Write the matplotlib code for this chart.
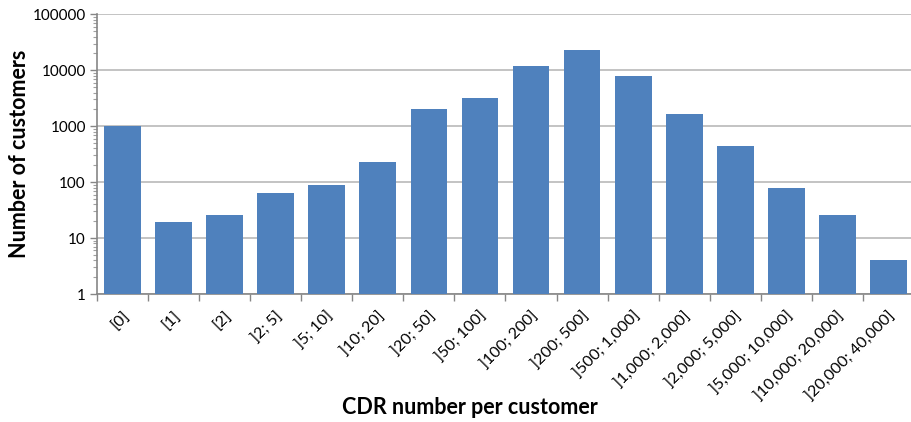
import matplotlib
matplotlib.use("Agg")
import matplotlib.pyplot as plt
import matplotlib.transforms as mtransforms
import numpy as np
from matplotlib.ticker import LogLocator, FixedLocator, NullFormatter, FuncFormatter

categories = ["[0]", "[1]", "[2]", "]2; 5]", "]5; 10]", "]10; 20]", "]20; 50]",
              "]50; 100]", "]100; 200]", "]200; 500]", "]500; 1,000]",
              "]1,000; 2,000]", "]2,000; 5,000]", "]5,000; 10,000]",
              "]10,000; 20,000]", "]20,000; 40,000]"]
customers = [1000, 19.6, 25.5, 65, 90, 229, 2050, 3190, 11700, 23000,
             7800, 1630, 440, 79, 25.5, 4.1]
y_ticks = [1, 10, 100, 1000, 10000, 100000]

plt.rcParams["font.family"] = ["Lato", "DejaVu Sans"]

fig = plt.figure(figsize=(9.12, 4.22), dpi=100)
W, H = 912, 422
x0, x1, yb, yt = 97, 914, 294, 14.3
ax = fig.add_axes([x0 / W, 1 - yb / H, (x1 - x0) / W, (yb - yt) / H])

x = np.arange(len(categories))
ax.bar(x, customers, width=0.72, color="#4F81BD", zorder=3, bottom=0.0001)
ax.set_yscale("log")
ax.set_ylim(1, 100000)
ax.set_xlim(-0.5, len(categories) - 0.5)

ax.yaxis.set_major_locator(FixedLocator(y_ticks))
ax.yaxis.set_major_formatter(FuncFormatter(lambda v, p: f"{int(v)}"))
ax.yaxis.set_minor_locator(LogLocator(base=10, subs=np.arange(2, 10)))
ax.yaxis.set_minor_formatter(NullFormatter())
ax.grid(axis="y", which="major", color="#BEBEBE", linewidth=1.3, zorder=0)

ax.set_xticks(np.arange(-0.5, len(categories) + 0.5, 1.0))
ax.set_xticklabels([])
ax.set_xticks(x, minor=True)
ax.set_xticklabels(categories, minor=True, rotation=45, ha="right", va="top",
                   rotation_mode="anchor", fontsize=11.5)
shift = mtransforms.ScaledTranslation(4 / 100, 0, fig.dpi_scale_trans)
for lbl in ax.get_xticklabels(minor=True):
    lbl.set_transform(lbl.get_transform() + shift)
ax.tick_params(axis="x", which="minor", length=0, pad=11)
ax.tick_params(axis="x", which="major", length=5, color="#868686", width=1)
ax.tick_params(axis="y", which="major", length=5, color="#868686", width=1,
               labelsize=11, pad=3)
ax.tick_params(axis="y", which="minor", length=3, color="#A0A0A0", width=0.8)

for s in ["top", "right"]:
    ax.spines[s].set_visible(False)
for s in ["left", "bottom"]:
    ax.spines[s].set_color("#868686")
    ax.spines[s].set_linewidth(1.2)

ax.set_ylabel("Number of customers", fontsize=15.5, fontweight="bold", labelpad=2)
fig.text(0.515, 1 - 408 / H, "CDR number per customer", fontsize=15.5,
         fontweight="bold", ha="center", va="center")

fig.savefig("out.png", dpi=100)
